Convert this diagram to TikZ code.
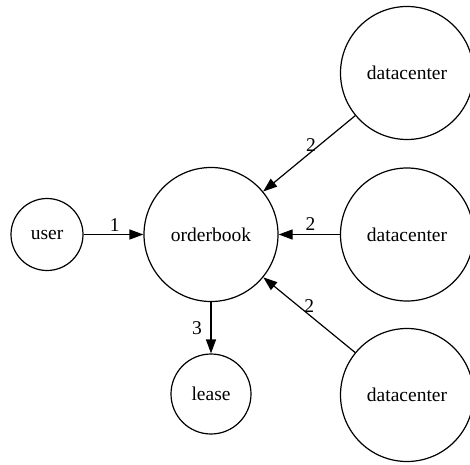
\documentclass[tikz,border=0pt]{standalone}
\usepackage{fontspec}
\setmainfont{Liberation Serif}
\newfontfamily\timesfont{Liberation Serif}
\usetikzlibrary{arrows.meta}
\begin{document}
\begin{tikzpicture}[x=1pt,y=1pt,
  vtx/.style={circle,draw,line width=1.2pt,inner sep=0pt,font=\timesfont\fontsize{19.5}{23}\selectfont},
  conn/.style={line width=1.2pt,-{Triangle[length=14pt,width=10pt]}},
  lbl/.style={font=\timesfont\fontsize{19.5}{23}\selectfont,inner sep=0pt,anchor=center}]
\useasboundingbox (0,0) rectangle (470,464);
\node[vtx,minimum size=72pt] (user) at (47,229.5) {user};
\node[vtx,minimum size=134pt] (ob) at (211,229.5) {orderbook};
\node[vtx,minimum size=80pt] (lease) at (211,70) {lease};
\node[vtx,minimum size=133pt] (dc1) at (407,391) {datacenter};
\node[vtx,minimum size=133pt] (dc2) at (407,229.5) {datacenter};
\node[vtx,minimum size=133pt] (dc3) at (407,69) {datacenter};
\draw[conn] (user) -- node[lbl,pos=0.52,yshift=9pt] {1} (ob);
\draw[conn] (ob) -- node[lbl,pos=0.51,xshift=-14pt] {3} (lease);
\draw[conn] (dc1) -- node[lbl,pos=0.48,yshift=7pt] {2} (ob);
\draw[conn] (dc2) -- node[lbl,pos=0.48,yshift=10pt] {2} (ob);
\draw[conn] (dc3) -- node[lbl,pos=0.5,yshift=9pt] {2} (ob);
\end{tikzpicture}
\end{document}
